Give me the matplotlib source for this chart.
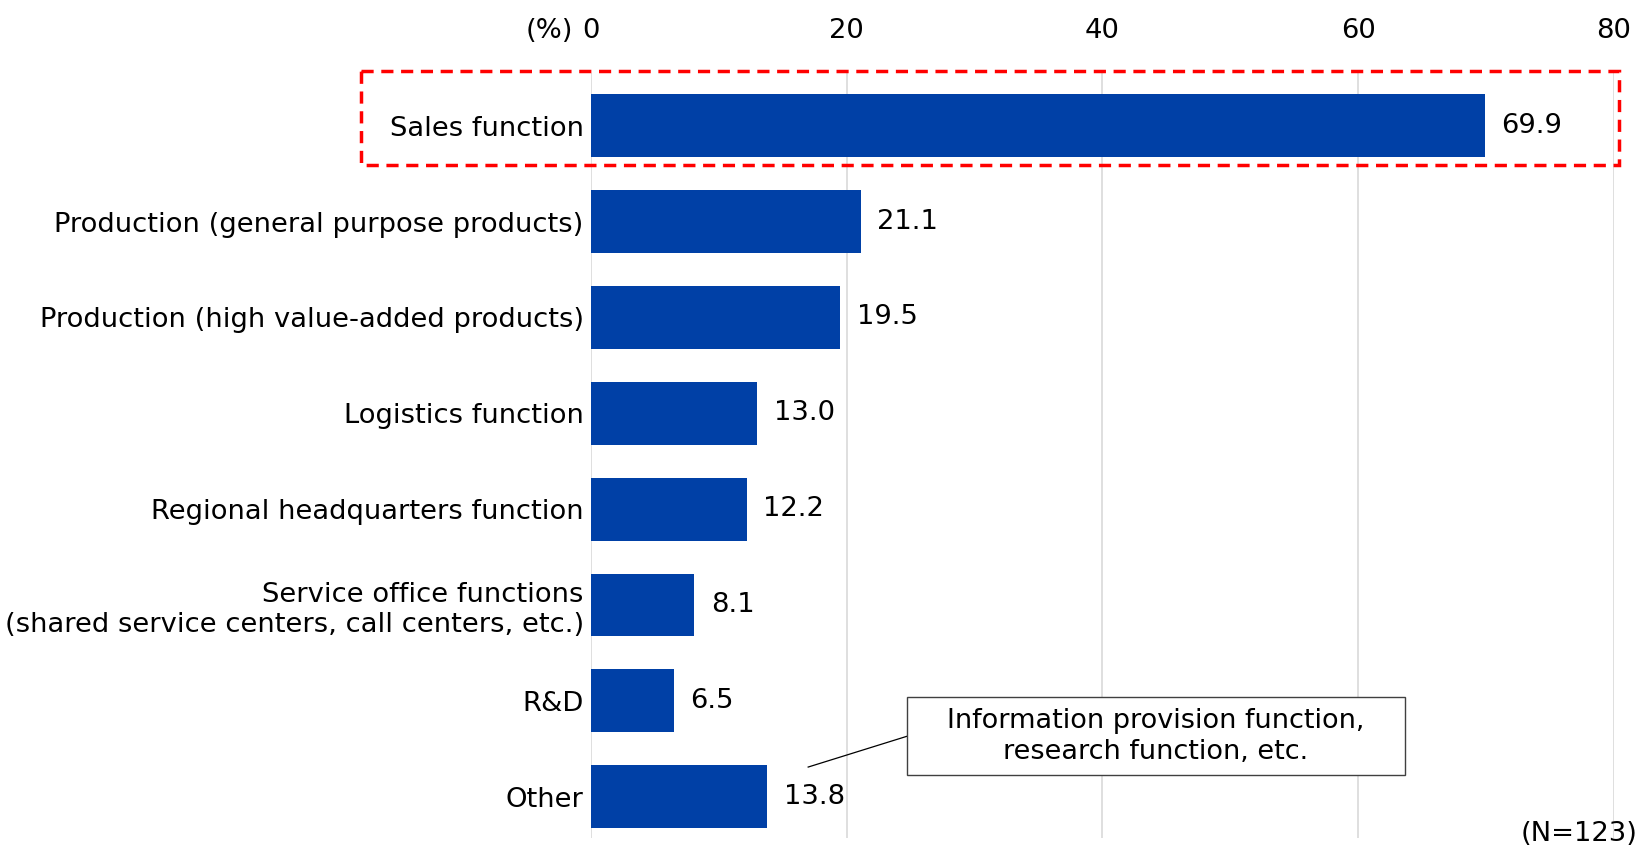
import matplotlib
matplotlib.use("Agg")
import matplotlib.pyplot as plt
from matplotlib.patches import Rectangle

plt.rcParams['font.family'] = ['DejaVu Sans']

categories = [
    "Sales function",
    "Production (general purpose products)",
    "Production (high value-added products)",
    "Logistics function",
    "Regional headquarters function",
    "Service office functions\n(shared service centers, call centers, etc.)",
    "R&D",
    "Other",
]
values = [69.9, 21.1, 19.5, 13.0, 12.2, 8.1, 6.5, 13.8]
xticks = [0, 20, 40, 60, 80]
note_text = "Information provision function,\nresearch function, etc."
n_text = "(N=123)"

bar_color = "#0040A6"
fs = 19.7

fig = plt.figure(figsize=(16.41, 8.48), dpi=100)
ax = fig.add_axes([0.360, 0.0118, 0.6235, 0.9022])

ypos = list(range(len(categories)))
ax.barh(ypos, values, height=0.655, color=bar_color, zorder=3)
ax.set_xlim(0, 80)
ax.set_ylim(7.43, -0.55)

ax.set_xticks(xticks)
ax.set_xticklabels([str(t) for t in xticks], fontsize=fs)
ax.xaxis.tick_top()
ax.tick_params(axis='x', length=0, pad=21)
ax.set_yticks(ypos)
ax.set_yticklabels(categories, fontsize=fs)
ax.tick_params(axis='y', length=0, pad=5)
for s in ax.spines.values():
    s.set_visible(False)
ax.grid(axis='x', color='#d9d9d9', linewidth=1.2, zorder=0)

for y, v in zip(ypos, values):
    ax.annotate(f"{v:.1f}", (v, y), xytext=(12, 0), textcoords='offset points',
                va='center', ha='left', fontsize=fs)

# "(%)" label left of 0
ax.annotate("(%)", (0, -0.55), xytext=(-13, 21), textcoords='offset points',
            ha='right', va='bottom', fontsize=fs, annotation_clip=False)

# red dashed highlight box
ax.add_patch(Rectangle((-18.0, -0.57), 98.4, 0.98, fill=False, edgecolor='#FF0000',
                       linestyle=(0, (3.5, 2.2)), linewidth=2.5, clip_on=False, zorder=5))

# note box with leader line
ax.plot([17.0, 24.7], [6.69, 6.37], color='black', linewidth=0.9, zorder=6, clip_on=False)
ax.add_patch(Rectangle((24.7, 5.96), 39.0, 0.81, facecolor='white', edgecolor='#404040',
                       linewidth=1.0, zorder=6))
ax.text(44.2, 6.37, note_text, ha='center', va='center', fontsize=fs - 0.2,
        linespacing=1.25, zorder=7)

fig.text(0.998, 0.0165, n_text, ha='right', va='center', fontsize=fs)

fig.savefig("out.png", dpi=100)
